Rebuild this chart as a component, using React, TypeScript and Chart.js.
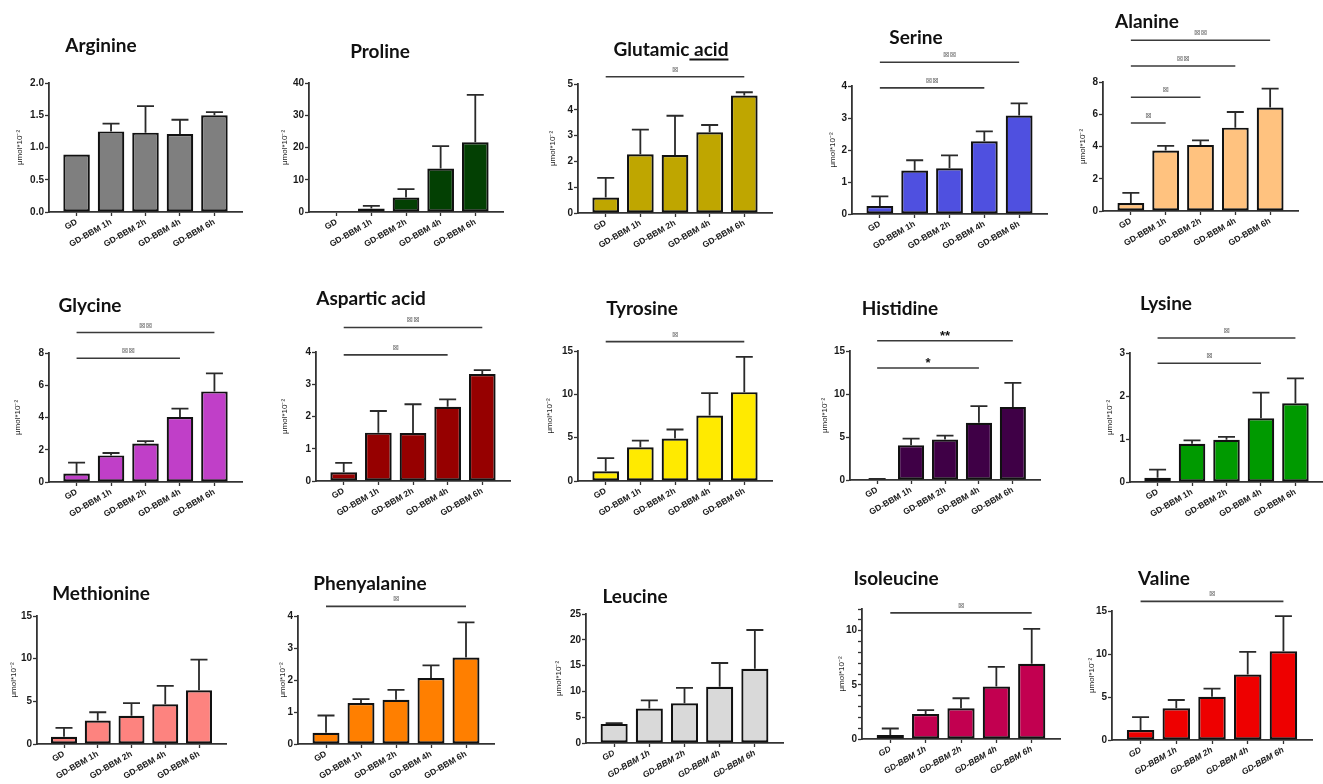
import React, { useEffect, useRef } from 'react';
import { Chart, registerables } from 'chart.js';

Chart.register(...registerables);

const categories = ['GD', 'GD-BBM 1h', 'GD-BBM 2h', 'GD-BBM 4h', 'GD-BBM 6h'];
const yUnit = 'μmol*10⁻²';

const arginineMean = [0.89, 1.25, 1.23, 1.21, 1.5];
const arginineSD = [0, 0.12, 0.41, 0.22, 0.05];
const prolineMean = [0, 1.1, 4.5, 13.5, 21.6];
const prolineSD = [0, 0.8, 2.6, 6.9, 14.7];
const glutamicMean = [0.6, 2.28, 2.25, 3.13, 4.55];
const glutamicSD = [0.76, 0.95, 1.52, 0.28, 0.13];
const serineMean = [0.25, 1.36, 1.43, 2.27, 3.08];
const serineSD = [0.3, 0.32, 0.4, 0.31, 0.38];
const alanineMean = [0.5, 3.75, 4.1, 5.17, 6.42];
const alanineSD = [0.62, 0.29, 0.28, 0.97, 1.17];
const glycineMean = [0.52, 1.65, 2.38, 4.03, 5.62];
const glycineSD = [0.68, 0.15, 0.16, 0.52, 1.12];
const asparticMean = [0.27, 1.5, 1.49, 2.3, 3.32];
const asparticSD = [0.29, 0.67, 0.89, 0.23, 0.12];
const tyrosineMean = [1.12, 3.9, 4.9, 7.55, 10.25];
const tyrosineSD = [1.51, 0.76, 1.04, 2.6, 4.07];
const histidineMean = [0.05, 4.05, 4.7, 6.65, 8.5];
const histidineSD = [0.08, 0.75, 0.45, 1.95, 2.8];
const lysineMean = [0.1, 0.89, 0.98, 1.48, 1.83];
const lysineSD = [0.19, 0.08, 0.07, 0.6, 0.58];
const methionineMean = [0.85, 2.75, 3.3, 4.65, 6.3];
const methionineSD = [1.05, 0.97, 1.5, 2.15, 3.58];
const phenylMean = [0.35, 1.28, 1.38, 2.06, 2.7];
const phenylSD = [0.54, 0.12, 0.31, 0.4, 1.1];
const leucineMean = [3.7, 6.7, 7.7, 10.9, 14.4];
const leucineSD = [0.15, 1.55, 3.0, 4.6, 7.5];
const isoleucineMean = [0.37, 2.31, 2.84, 4.85, 6.95];
const isoleucineSD = [0.6, 0.35, 0.92, 1.8, 3.22];
const valineMean = [1.16, 3.7, 5.03, 7.62, 10.32];
const valineSD = [1.5, 0.95, 0.95, 2.62, 4.08];

type Sig = { to: number; level: number; mark: string };
const glutamicSig: Sig[] = [{ to: 4, level: 5.28, mark: '⊠' }];
const serineSig: Sig[] = [
  { to: 4, level: 4.74, mark: '⊠⊠' },
  { to: 3, level: 3.94, mark: '⊠⊠' },
];
const alanineSig: Sig[] = [
  { to: 1, level: 5.46, mark: '⊠' },
  { to: 2, level: 7.05, mark: '⊠' },
  { to: 3, level: 8.99, mark: '⊠⊠' },
  { to: 4, level: 10.59, mark: '⊠⊠' },
];
const glycineSig: Sig[] = [
  { to: 4, level: 9.27, mark: '⊠⊠' },
  { to: 3, level: 7.67, mark: '⊠⊠' },
];
const asparticSig: Sig[] = [
  { to: 4, level: 4.76, mark: '⊠⊠' },
  { to: 3, level: 3.91, mark: '⊠' },
];
const tyrosineSig: Sig[] = [{ to: 4, level: 16.08, mark: '⊠' }];
const histidineSig: Sig[] = [
  { to: 4, level: 16.2, mark: '**' },
  { to: 3, level: 13.02, mark: '*' },
];
const lysineSig: Sig[] = [
  { to: 4, level: 3.35, mark: '⊠' },
  { to: 3, level: 2.76, mark: '⊠' },
];
const phenylSig: Sig[] = [{ to: 4, level: 4.3, mark: '⊠' }];
const isoleucineSig: Sig[] = [{ to: 4, level: 11.64, mark: '⊠' }];
const valineSig: Sig[] = [{ to: 4, level: 16.12, mark: '⊠' }];

type PanelDef = {
  title: string;
  mean: number[];
  sd: number[];
  sig: Sig[];
  color: string;
  yMax: number;
  yStep: number;
  decimals: number;
  labelEvery?: number;
  rect: [number, number, number, number];
  titlePos: [number, number];
  yTitleDx: number;
  italic?: boolean;
};

const FONT = "'Liberation Sans', Arial, sans-serif";
const PAD_TOP = 80;
const PAD_BOTTOM = 52;
const Y_W = 50;
const PAD_RIGHT = 25;

const panels: PanelDef[] = [
  { title: 'Arginine', mean: arginineMean, sd: arginineSD, sig: [], color: '#7f7f7f', yMax: 2, yStep: 0.5, decimals: 1, rect: [49, 83, 242, 212], titlePos: [101, 44], yTitleDx: -29 },
  { title: 'Proline', mean: prolineMean, sd: prolineSD, sig: [], color: '#034003', yMax: 40, yStep: 10, decimals: 0, rect: [309, 83, 503, 212], titlePos: [380, 50], yTitleDx: -24 },
  { title: 'Glutamic acid', mean: glutamicMean, sd: glutamicSD, sig: glutamicSig, color: '#bfa600', yMax: 5, yStep: 1, decimals: 0, rect: [578, 84, 772, 213], titlePos: [671, 48], yTitleDx: -25 },
  { title: 'Serine', mean: serineMean, sd: serineSD, sig: serineSig, color: '#4f50e0', yMax: 4, yStep: 1, decimals: 0, rect: [852, 86, 1047, 214], titlePos: [916, 36], yTitleDx: -19 },
  { title: 'Alanine', mean: alanineMean, sd: alanineSD, sig: alanineSig, color: '#ffc27f', yMax: 8, yStep: 2, decimals: 0, rect: [1103, 82, 1298, 211], titlePos: [1147, 20], yTitleDx: -20 },
  { title: 'Glycine', mean: glycineMean, sd: glycineSD, sig: glycineSig, color: '#c03fc8', yMax: 8, yStep: 2, decimals: 0, rect: [49, 353, 242, 482], titlePos: [90, 304], yTitleDx: -31 },
  { title: 'Aspartic acid', mean: asparticMean, sd: asparticSD, sig: asparticSig, color: '#960000', yMax: 4, yStep: 1, decimals: 0, rect: [316, 352, 510, 481], titlePos: [371, 297], yTitleDx: -31 },
  { title: 'Tyrosine', mean: tyrosineMean, sd: tyrosineSD, sig: tyrosineSig, color: '#ffea00', yMax: 15, yStep: 5, decimals: 0, rect: [578, 351, 772, 481], titlePos: [642, 307], yTitleDx: -28 },
  { title: 'Histidine', mean: histidineMean, sd: histidineSD, sig: histidineSig, color: '#3f0046', yMax: 15, yStep: 5, decimals: 0, rect: [850, 351, 1040, 480], titlePos: [900, 307], yTitleDx: -25 },
  { title: 'Lysine', mean: lysineMean, sd: lysineSD, sig: lysineSig, color: '#009a00', yMax: 3, yStep: 1, decimals: 0, rect: [1130, 353, 1323, 482], titlePos: [1166, 302], yTitleDx: -20 },
  { title: 'Methionine', mean: methionineMean, sd: methionineSD, sig: [], color: '#fd837f', yMax: 15, yStep: 5, decimals: 0, rect: [37, 616, 226, 744], titlePos: [101, 592], yTitleDx: -23 },
  { title: 'Phenyalanine', mean: phenylMean, sd: phenylSD, sig: phenylSig, color: '#ff7f00', yMax: 4, yStep: 1, decimals: 0, rect: [298, 616, 494, 744], titlePos: [370, 582], yTitleDx: -15 },
  { title: 'Leucine', mean: leucineMean, sd: leucineSD, sig: [], color: '#d9d9d9', yMax: 25, yStep: 5, decimals: 0, rect: [586, 614, 783, 743], titlePos: [635, 595], yTitleDx: -27, italic: true },
  { title: 'Isoleucine', mean: isoleucineMean, sd: isoleucineSD, sig: isoleucineSig, color: '#c20050', yMax: 12, yStep: 1, decimals: 0, labelEvery: 5, rect: [862, 609, 1060, 739], titlePos: [896, 577], yTitleDx: -20, italic: true },
  { title: 'Valine', mean: valineMean, sd: valineSD, sig: valineSig, color: '#ee0000', yMax: 15, yStep: 5, decimals: 0, rect: [1112, 611, 1312, 740], titlePos: [1164, 577], yTitleDx: -20, italic: true },
];

function Panel({ d }: { d: PanelDef }) {
  const ref = useRef<HTMLCanvasElement | null>(null);
  const [L, T, R, B] = d.rect;
  const left = L - Y_W;
  const top = T - PAD_TOP;
  const width = R - L + Y_W + PAD_RIGHT;
  const height = B - T + PAD_TOP + PAD_BOTTOM;

  useEffect(() => {
    if (!ref.current) return;
    const overlay = {
      id: 'overlay',
      afterDatasetsDraw(chart: any) {
        const { ctx } = chart;
        const xs = chart.scales.x;
        const ys = chart.scales.y;
        ctx.save();
        ctx.strokeStyle = '#2a2a2a';
        ctx.lineWidth = 1.8;
        d.mean.forEach((m, i) => {
          const s = d.sd[i];
          if (!s) return;
          const x = xs.getPixelForValue(i);
          const y0 = ys.getPixelForValue(m);
          const y1 = ys.getPixelForValue(m + s);
          ctx.beginPath();
          ctx.moveTo(x, y0);
          ctx.lineTo(x, y1);
          ctx.moveTo(x - 8.5, y1);
          ctx.lineTo(x + 8.5, y1);
          ctx.stroke();
        });
        d.sig.forEach((sg) => {
          const x1 = xs.getPixelForValue(0);
          const x2 = xs.getPixelForValue(sg.to);
          const y = ys.getPixelForValue(sg.level);
          ctx.beginPath();
          ctx.strokeStyle = '#3a3a3a';
          ctx.lineWidth = 1.6;
          ctx.moveTo(x1, y);
          ctx.lineTo(x2, y);
          ctx.stroke();
          const star = sg.mark.includes('*');
          ctx.fillStyle = star ? '#111' : '#777';
          ctx.font = star ? `bold 13px ${FONT}` : `8px 'DejaVu Sans'`;
          ctx.textAlign = 'center';
          ctx.textBaseline = 'alphabetic';
          ctx.fillText(sg.mark, (x1 + x2) / 2, y - (star ? 1 : 5));
        });
        ctx.restore();
      },
    };

    const chart = new Chart(ref.current, {
      type: 'bar',
      data: {
        datasets: [
          {
            data: d.mean.map((v, i) => ({ x: i, y: v })) as any,
            backgroundColor: d.color,
            borderColor: '#111',
            borderWidth: 2.2,
            borderSkipped: false,
            barPercentage: 0.77,
            categoryPercentage: 1,
          },
        ],
      },
      options: {
        animation: false,
        responsive: false,
        events: [],
        layout: { padding: { top: PAD_TOP, right: PAD_RIGHT, left: 0, bottom: 0 } },
        plugins: {
          legend: { display: false },
          tooltip: { enabled: false },
          title: { display: false },
        },
        scales: {
          x: {
            type: 'linear',
            min: -0.8,
            max: 4.8,
            offset: false,
            bounds: 'data',
            afterBuildTicks: (s: any) => {
              s.ticks = categories.map((_, i) => ({ value: i }));
            },
            afterFit: (s: any) => {
              s.height = PAD_BOTTOM;
            },
            ticks: {
              autoSkip: false,
              minRotation: 30,
              maxRotation: 30,
              padding: 1,
              color: '#1a1a1a',
              font: { family: FONT, size: 8.5, weight: 'bold', style: d.italic ? 'italic' : 'normal' },
              callback: (v: any) => categories[Math.round(Number(v))] ?? '',
            },
            grid: { display: true, offset: false, drawOnChartArea: false, drawTicks: true, tickLength: 4, tickColor: '#333', tickWidth: 1.3 },
            border: { display: true, color: '#333', width: 1.8 },
          },
          y: {
            type: 'linear',
            min: 0,
            max: d.yMax,
            afterFit: (s: any) => {
              s.width = Y_W;
            },
            ticks: {
              stepSize: d.yStep,
              autoSkip: false,
              padding: 1,
              color: '#1a1a1a',
              font: { family: FONT, size: 10, weight: 'bold' },
              callback: (v: any) => {
                const n = Number(v);
                if (d.labelEvery && Math.abs(n % d.labelEvery) > 1e-9) return '';
                return n.toFixed(d.decimals);
              },
            },
            grid: { display: true, drawOnChartArea: false, drawTicks: true, tickLength: 4, tickColor: '#333', tickWidth: 1.3 },
            border: { display: true, color: '#333', width: 1.8 },
            title: {
              display: true,
              text: yUnit,
              color: '#222',
              font: { family: FONT, size: 8, lineHeight: 1.2 },
              padding: { top: Y_W + d.yTitleDx - 4.8, bottom: 0 },
            },
          },
        },
      },
      plugins: [overlay],
    } as any);
    return () => chart.destroy();
  }, []);

  return (
    <canvas
      ref={ref}
      width={width}
      height={height}
      style={{ position: 'absolute', left, top, width, height }}
    />
  );
}

function Title({ d }: { d: PanelDef }) {
  const [cx, cy] = d.titlePos;
  const style: React.CSSProperties = {
    position: 'absolute',
    left: cx,
    top: cy,
    transform: 'translate(-50%, -50%)',
    whiteSpace: 'pre',
    font: "bold 19px Lato, 'Open Sans', sans-serif",
    lineHeight: '1',
    color: '#111',
  };
  if (d.title === 'Glutamic acid') {
    return (
      <div style={style}>
        Glutamic
        <span style={{ textDecoration: 'underline', textDecorationThickness: '2px', textUnderlineOffset: '3px' }}> acid</span>
      </div>
    );
  }
  return <div style={style}>{d.title}</div>;
}

export default function App() {
  return (
    <div
      style={{
        position: 'absolute',
        left: 0,
        top: 0,
        width: 1323,
        height: 784,
        overflow: 'hidden',
        background: '#fff',
      }}
    >
      {panels.map((d) => (
        <Panel key={d.title} d={d} />
      ))}
      {panels.map((d) => (
        <Title key={'t' + d.title} d={d} />
      ))}
    </div>
  );
}
